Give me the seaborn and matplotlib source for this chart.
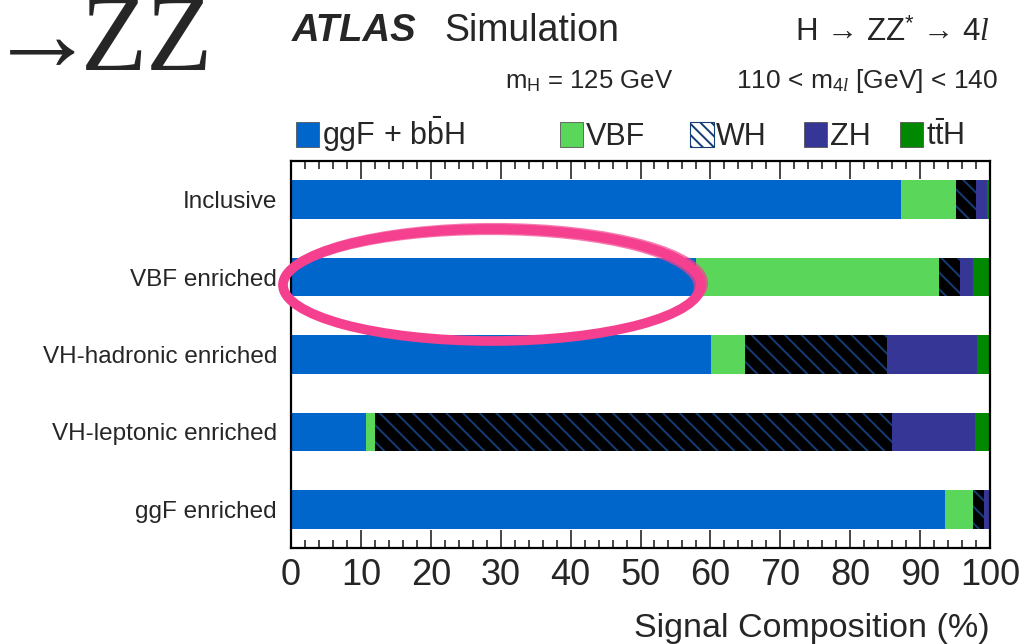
import numpy as np
import pandas as pd
import matplotlib
matplotlib.use("Agg")
import matplotlib.pyplot as plt
import seaborn as sns
from matplotlib.patches import Rectangle, Ellipse
from matplotlib.ticker import MultipleLocator

# ---------------- data ----------------
categories = ["Inclusive", "VBF enriched", "VH-hadronic enriched",
              "VH-leptonic enriched", "ggF enriched"]
ggf = [87.3, 58.0, 60.1, 10.8, 93.6]
vbf = [7.8, 34.7, 4.9, 1.2, 4.0]
wh = [2.9, 3.0, 20.3, 74.0, 1.5]
zh = [1.6, 1.9, 12.9, 11.9, 0.7]
tth = [0.4, 2.4, 1.8, 2.1, 0.2]
components = ["ggF + bbH", "VBF", "WH", "ZH", "ttH"]
legend_labels = [r"ggF + $\mathrm{b\bar{b}}$H", "VBF", "WH", "ZH", r"$\mathrm{t\bar{t}}$H"]
xticks = [0, 10, 20, 30, 40, 50, 60, 70, 80, 90, 100]

colors = ["#0066cc", "#5ad65a", "#000000", "#363696", "#008800"]
hatch_color = "#143d75"

# ---------------- style ----------------
sns.set_style("ticks")
plt.rcParams["font.family"] = ["Liberation Sans", "DejaVu Sans"]
plt.rcParams["mathtext.fontset"] = "custom"
plt.rcParams["mathtext.rm"] = "Liberation Sans"
plt.rcParams["mathtext.it"] = "Liberation Serif:italic"
plt.rcParams["mathtext.bf"] = "Liberation Sans:bold"
plt.rcParams["hatch.linewidth"] = 1.4

fig = plt.figure(figsize=(10.26, 6.44), dpi=100)
ax = fig.add_axes([291 / 1026, 1 - 548 / 644, (990 - 291) / 1026, (548 - 161) / 644])

df = pd.DataFrame({"category": categories, "ggF + bbH": ggf, "VBF": vbf,
                   "WH": wh, "ZH": zh, "ttH": tth})
cum = df[components].cumsum(axis=1)

# draw from the largest cumulative sum down, so each segment sits on top
for i in reversed(range(len(components))):
    comp = components[i]
    n_before = len(ax.patches)
    plot_df = pd.DataFrame({"category": categories, "value": cum[comp].values})
    sns.barplot(data=plot_df, x="value", y="category", orient="h", color=colors[i],
                saturation=1, width=0.5, ax=ax, linewidth=0)
    if comp == "WH":
        for p in ax.patches[n_before:]:
            p.set_hatch("\\\\")
            p.set_edgecolor(hatch_color)
            p.set_linewidth(0)

ax.set_xlim(0, 100)
ax.set_ylim(4.5, -0.5)
ax.set_xlabel("")
ax.set_ylabel("")
ax.set_xticks(xticks)
ax.xaxis.set_minor_locator(MultipleLocator(2))
ax.tick_params(axis="x", which="both", direction="in", top=True, bottom=True,
               labelsize=26, pad=7, width=1.2)
ax.tick_params(axis="x", which="major", length=13)
ax.tick_params(axis="x", which="minor", length=6)
ax.tick_params(axis="y", length=0, labelsize=17.5, pad=10)
for s in ax.spines.values():
    s.set_visible(True)
    s.set_linewidth(1.6)
    s.set_color("black")

# ---------------- texts ----------------
serif = ["Liberation Serif", "DejaVu Serif"]
fig.text(213 / 1026, 1 - 70 / 644, "ZZ", ha="right", va="baseline",
         fontsize=78, family=serif)
fig.text(96 / 1026, 1 - 70 / 644, "→", ha="right", va="baseline",
         fontsize=78, family=serif)
fig.text(292 / 1026, 1 - 41 / 644, "ATLAS", ha="left", va="baseline",
         fontsize=27.5, fontweight="bold", fontstyle="italic")
fig.text(444 / 1026, 1 - 41 / 644, "Simulation", ha="left", va="baseline", fontsize=27)
fig.text(990 / 1026, 1 - 41 / 644, r"H → ZZ$^{*}$ → 4$\mathit{l}$", ha="right",
         va="baseline", fontsize=22.5)
fig.text(505 / 1026, 1 - 88 / 644, r"m$_{\mathrm{H}}$ = 125 GeV", ha="left",
         va="baseline", fontsize=18.5)
fig.text(998 / 1026, 1 - 88 / 644, r"110 < m$_{4\mathit{l}}$ [GeV] < 140", ha="right",
         va="baseline", fontsize=19)
fig.text(990 / 1026, 1 - 628 / 644, "Signal Composition (%)", ha="right",
         va="center", fontsize=24.5)

# ---------------- legend (ROOT-style fixed positions) ----------------
leg_x = [296, 560, 690, 804, 900]
for i, lab in enumerate(legend_labels):
    x0 = leg_x[i]
    if components[i] == "WH":
        r = Rectangle((x0 / 1026, 1 - 147 / 644), 24 / 1026, 25 / 644,
                      transform=fig.transFigure, facecolor="white",
                      edgecolor=hatch_color, hatch="\\\\\\", linewidth=0.8)
    else:
        r = Rectangle((x0 / 1026, 1 - 147 / 644), 23 / 1026, 25 / 644,
                      transform=fig.transFigure, facecolor=colors[i],
                      edgecolor="#555555", linewidth=0.6)
    fig.add_artist(r)
    fig.text((x0 + 26) / 1026, 1 - 145 / 644, lab, ha="left", va="baseline",
             fontsize=22)

# ---------------- pink hand-drawn ellipse annotation ----------------
pink = "#f4408e"
for (dx, dy, dw, dh, lw, a) in [(0, 0, 0, 0, 7, 1.0), (2, -2, 6, 4, 3, 0.7),
                               (-2, 2, -6, -4, 3, 0.7)]:
    e = Ellipse(((492 + dx) / 1026, 1 - (285 + dy) / 644),
                (418 + dw) / 1026, (112 + dh) / 644,
                transform=fig.transFigure, fill=False, edgecolor=pink,
                linewidth=lw, alpha=a, zorder=10)
    fig.add_artist(e)

fig.savefig("out.png", dpi=100)
